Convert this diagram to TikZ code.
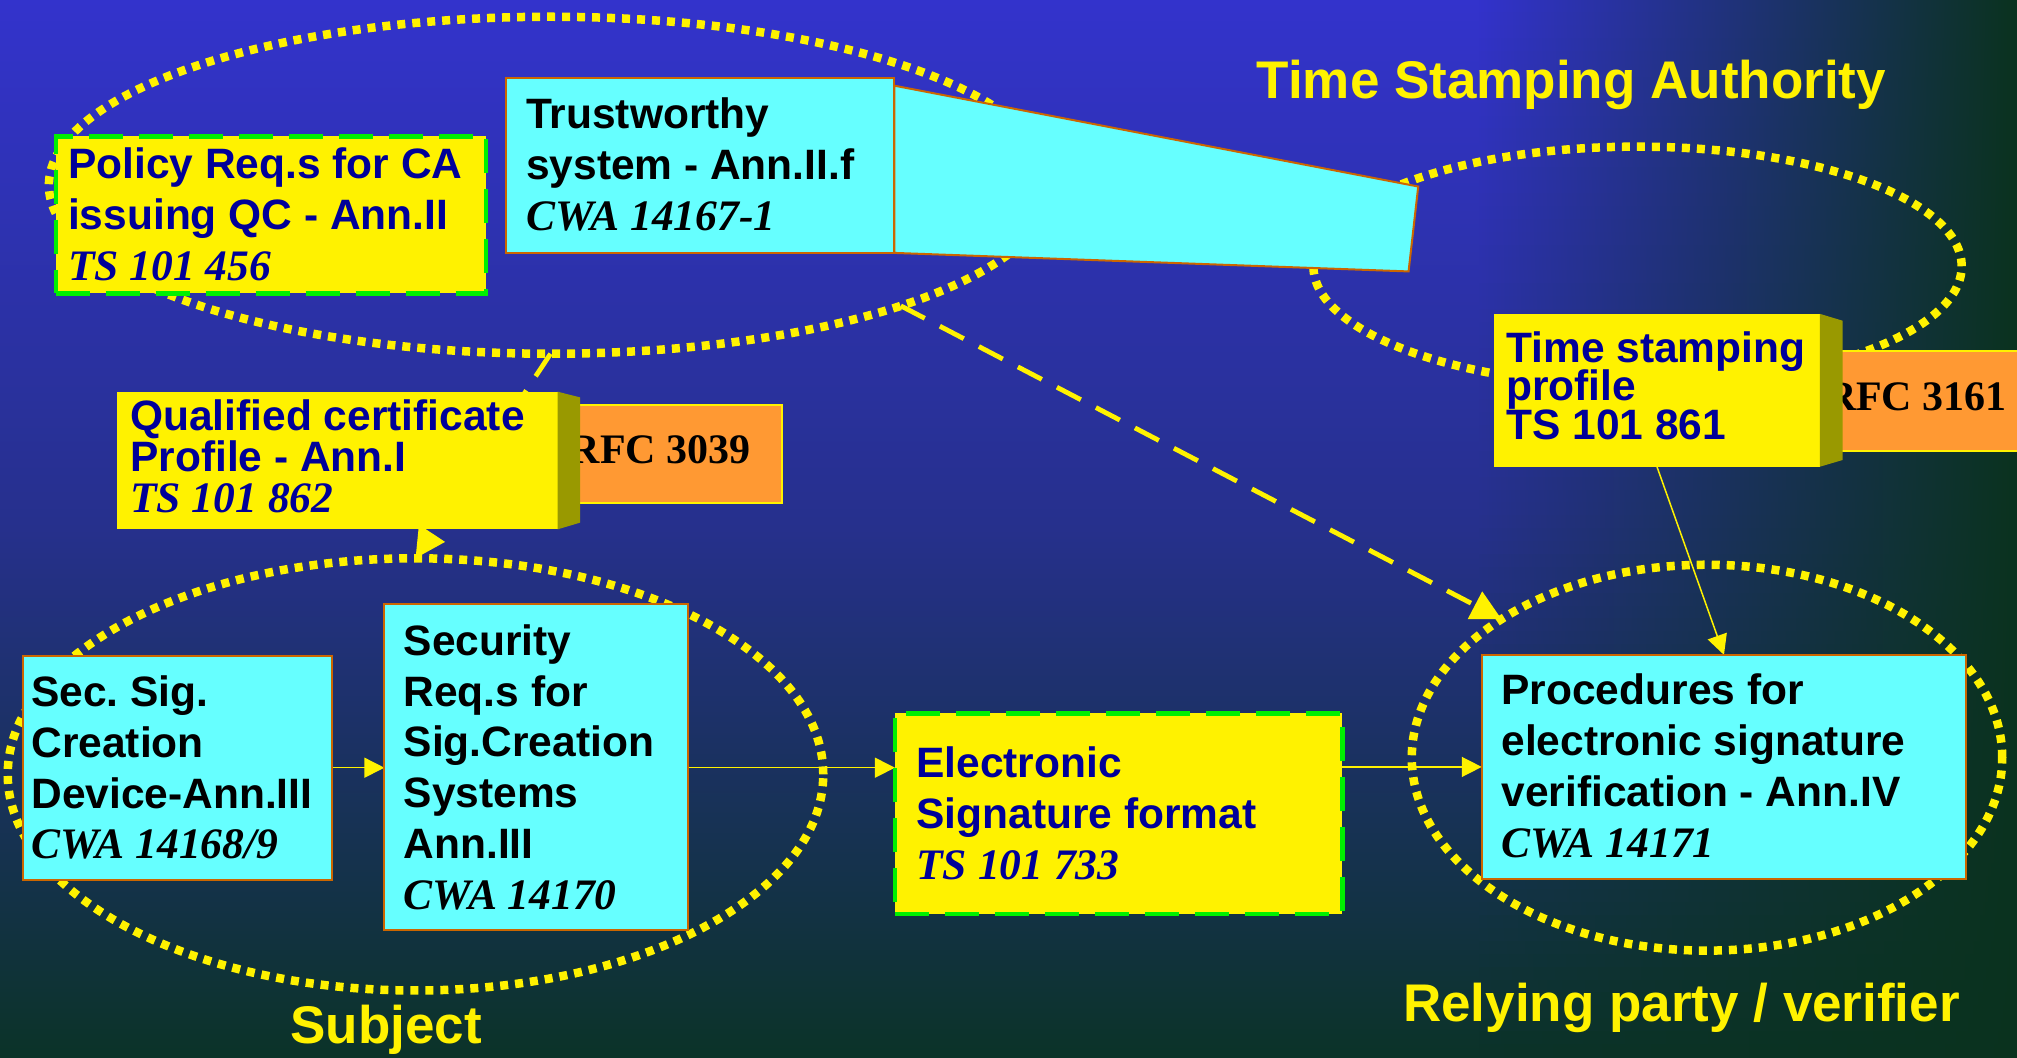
\documentclass[tikz,border=0pt]{standalone}
\usepackage{fontspec}
\setmainfont{Liberation Sans}
\newfontfamily\tnrfont{Liberation Serif}
\usetikzlibrary{shapes.geometric,arrows.meta,fit}

\definecolor{navy}{RGB}{0,0,153}
\definecolor{cyanfill}{RGB}{102,255,255}
\definecolor{brownb}{RGB}{204,102,0}
\definecolor{orangefill}{RGB}{255,153,51}
\definecolor{olive3d}{RGB}{153,153,0}
\definecolor{greendash}{RGB}{0,240,0}
\definecolor{bgtop}{RGB}{51,51,204}
\definecolor{bgmid}{RGB}{38,48,140}
\definecolor{bgbot}{RGB}{11,51,40}
\definecolor{bgright}{RGB}{10,50,30}

\newcommand\mlines[1]{\parbox[t]{900pt}{\raggedright\frenchspacing\lineskiplimit=-1000pt #1}}
\newcommand\itl[1]{{\fontsize{43.5pt}{50.7pt}\selectfont\tnrfont\itshape #1}}

\begin{document}
\begin{tikzpicture}[x=1.2864pt, y=-1.2864pt,
  dotell/.style={ellipse, draw=yellow, line width=8.5pt, dash pattern=on 8pt off 7pt, inner sep=0pt, outer sep=0pt},
  cbox/.style={rectangle, fill=cyanfill, draw=brownb, line width=2pt, inner sep=0pt, outer sep=0pt},
  gbox/.style={rectangle, fill=yellow, draw=greendash, line width=4.5pt, dash pattern=on 34pt off 16pt, inner sep=0pt, outer sep=0pt},
  ybox/.style={rectangle, fill=yellow, inner sep=0pt, outer sep=0pt},
  obox/.style={rectangle, fill=orangefill, draw=yellow, line width=2pt, inner sep=0pt, outer sep=0pt},
  sideface/.style={fill=olive3d},
  thinarr/.style={draw=yellow, line width=1.5pt, -{Triangle[length=20pt,width=20pt]}},
  dasharr/.style={draw=yellow, line width=4.8pt, dash pattern=on 27pt off 17pt, -{Triangle[length=30pt,width=30pt]}},
  txt/.style={anchor=base west, inner sep=0pt, outer sep=0pt, font=\bfseries\fontsize{42.5pt}{50.7pt}\selectfont},
  txtq/.style={txt, font=\bfseries\fontsize{42.5pt}{41pt}\selectfont},
  txts/.style={txt, font=\bfseries\fontsize{42.5pt}{38.4pt}\selectfont},
  rfc/.style={anchor=base west, inner sep=0pt, outer sep=0pt, text=black, font=\tnrfont\bfseries\fontsize{42pt}{46pt}\selectfont},
  lbl/.style={anchor=base west, inner sep=0pt, outer sep=0pt, text=yellow, font=\bfseries\fontsize{53pt}{60pt}\selectfont}
]
\useasboundingbox (0,0) rectangle (1568,822);
\clip (0,0) rectangle (1568,822);

% background
\shade[top color=bgtop, bottom color=bgbot, middle color=bgmid] (0,0) rectangle (1568,822);
\foreach \k in {0,...,81}{
  \pgfmathsetmacro{\ya}{\k*10.02439}
  \pgfmathsetmacro{\yb}{(\k+1)*10.02439+0.8}
  \pgfmathsetmacro{\fr}{(\k+0.5)/82}
  \pgfmathtruncatemacro{\cR}{\fr<0.5 ? 51-26*\fr : 38-27*(2*\fr-1)}
  \pgfmathtruncatemacro{\cG}{\fr<0.5 ? 51-6*\fr : 48+3*(2*\fr-1)}
  \pgfmathtruncatemacro{\cB}{\fr<0.5 ? 204-128*\fr : 140-100*(2*\fr-1)}
  \definecolor{bgc}{RGB}{\cR,\cG,\cB}
  \shade[left color=bgc, right color=bgright] (1150,\ya) rectangle (1568.5,\yb);
}

% dotted ellipses
\node[dotell, minimum width=1003.4pt, minimum height=337pt] (caEll) at (428,144) {};
\node[dotell, minimum width=648.3pt, minimum height=239.3pt] (tsaEll) at (1273,207) {};
\node[dotell, minimum width=815.6pt, minimum height=432.2pt] (subjEll) at (323,602) {};
\node[dotell, minimum width=590.5pt, minimum height=385.9pt] (relEll) at (1327,589) {};

% boxes (geometry)
\node[cbox, fit={(17.5,509.6) (257.8,684)}] (secBox) {};
\node[cbox, fit={(298.8,469.8) (534.6,723.3)}] (reqBox) {};
\node[gbox, fit={(695.7,554.5) (1043.5,710.5)}] (elecBox) {};
\node[cbox, fit={(1151.9,509.1) (1528.5,683.3)}] (procBox) {};
\node[ybox, fit={(1161.4,244) (1414.8,362.8)}] (tsBox) {};

% connectors
\draw[dasharr] (caEll.-19.4) -- (relEll.146.4);
\draw[dasharr] (caEll.south) -- (subjEll.north);
\draw[thinarr] (secBox.east) -- (secBox.east -| reqBox.west);
\draw[thinarr] (reqBox.east |- secBox.east) -- (elecBox.west |- secBox.east);
\draw[thinarr] (elecBox.east |- procBox.west) -- (procBox.west);
\draw[thinarr] (tsBox.south) -- (procBox.north);

% redraw boxes on top of connectors
\node[cbox, fit={(17.5,509.6) (257.8,684)}] (secBoxF) {};
\node[cbox, fit={(298.8,469.8) (534.6,723.3)}] (reqBoxF) {};
\node[gbox, fit={(695.7,554.5) (1043.5,710.5)}] (elecBoxF) {};
\node[cbox, fit={(1151.9,509.1) (1528.5,683.3)}] (procBoxF) {};

% top-left group
\node[gbox, fit={(43.5,106) (377.7,228)}] (policyBox) {};
\filldraw[fill=cyanfill, draw=brownb, line width=2pt] (695.3,66.6) -- (1102.5,145) -- (1095,211) -- (695.3,196.6) -- cycle;
\node[cbox, fit={(393,60.3) (695.3,196.6)}] (trustBox) {};

% qualified certificate group
\node[obox, fit={(440,314.8) (607.6,391.2)}] (rfcA) {};
\node[rfc] (rfcAT) at (443,360.7) {RFC 3039};
\node[ybox, fit={(91,304.5) (433.5,411.5)}] (qualBox) {};
\fill[sideface] (qualBox.north east) -- ++(17.4,4.4) -- ++(0,97.4) -- (qualBox.south east) -- cycle;

% time stamping group
\node[obox, fit={(1420,272.9) (1580,350.6)}] (rfcB) {};
\node[rfc] (rfcBT) at (1419.5,319.3) {RFC 3161};
\node[ybox, fit={(1161.4,244) (1414.8,362.8)}] (tsBoxF) {};
\fill[sideface] (tsBoxF.north east) -- ++(17.6,5.3) -- ++(0,108.3) -- (tsBoxF.south east) -- cycle;

% texts
\node[txt, text=navy] (policyT) at (53,139) {\mlines{Policy Req.s for CA\\issuing QC - Ann.II\\\itl{TS 101 456}}};
\node[txt, text=black] (trustT) at (409,100) {\mlines{Trustworthy\\system - Ann.II.f\\\itl{CWA 14167-1}}};
\node[txtq, text=navy] (qualT) at (101.3,334.6) {\mlines{Qualified certificate\\Profile - Ann.I\\\itl{TS 101 862}}};
\node[txts, text=navy] (tsT) at (1171,281.8) {\mlines{Time stamping\\profile\\TS 101 861}};
\node[txt, text=black] (secT) at (24.4,549.3) {\mlines{Sec. Sig.\\Creation\\Device-Ann.III\\\itl{CWA 14168/9}}};
\node[txt, text=black] (reqT) at (313.8,509.6) {\mlines{Security\\Req.s for\\Sig.Creation\\Systems\\Ann.III\\\itl{CWA 14170}}};
\node[txt, text=navy] (elecT) at (712.4,604.5) {\mlines{Electronic\\Signature format\\\itl{TS 101 733}}};
\node[txt, text=black] (procT) at (1167.2,548) {\mlines{Procedures for\\electronic signature\\verification - Ann.IV\\\itl{CWA 14171}}};

% labels
\node[lbl] (tsaLbl) at (977,76.4) {Time Stamping Authority};
\node[lbl] (subjLbl) at (225.8,811) {Subject};
\node[lbl] (relLbl) at (1090.8,794.3) {Relying party / verifier};
\end{tikzpicture}
\end{document}
